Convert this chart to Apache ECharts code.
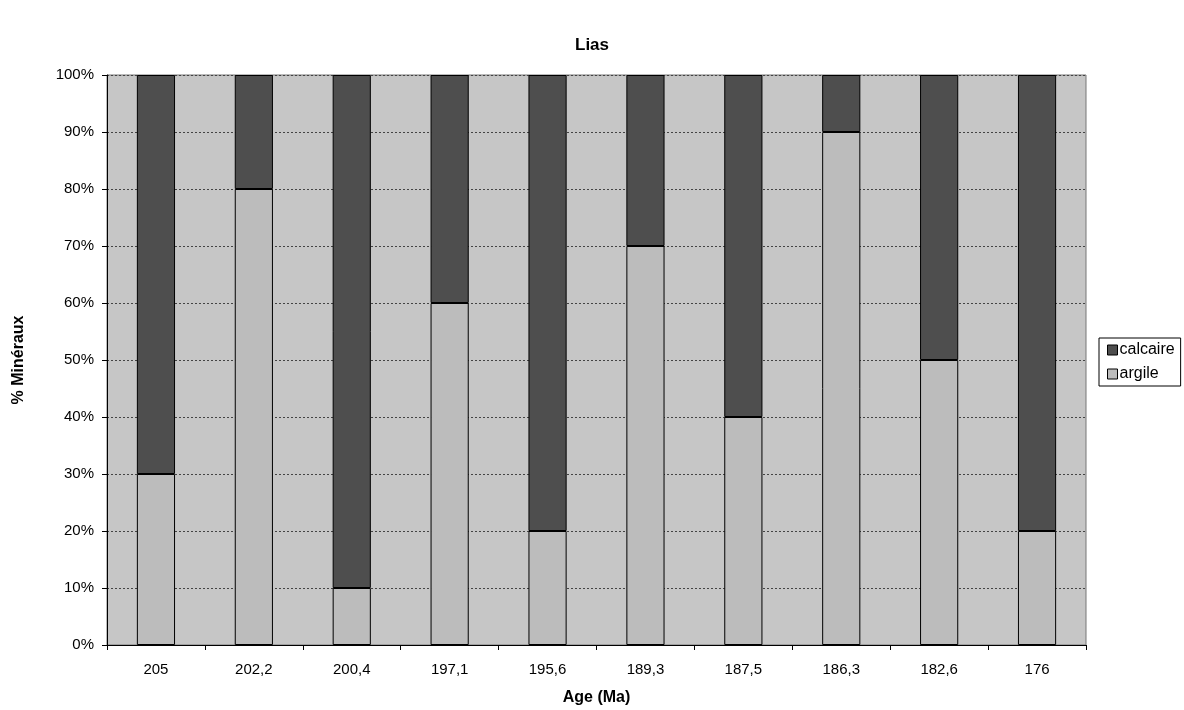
<!DOCTYPE html>
<html><head><meta charset="utf-8">
<script src="https://cdn.jsdelivr.net/npm/echarts@6/dist/echarts.min.js"></script>
<style>html,body{margin:0;padding:0;background:#fff}#c{width:1184px;height:710px}</style>
</head><body><div id="c"></div>
<script>
const categories = ['205','202,2','200,4','197,1','195,6','189,3','187,5','186,3','182,6','176'];
const argile = [30, 80, 10, 60, 20, 70, 40, 90, 50, 20];
const calcaire = [70, 20, 90, 40, 80, 30, 60, 10, 50, 80];
const chart = echarts.init(document.getElementById('c'));
const font = 'Liberation Sans, Arial, sans-serif';
chart.setOption({
  backgroundColor: '#ffffff',
  animation: false,
  title: { text: 'Lias', left: 'center', top: 32, textStyle: { fontFamily: font, fontSize: 17, fontWeight: 'bold', color: '#000' } },
  legend: {
    orient: 'vertical', left: 1099, top: 338,
    data: ['calcaire', 'argile'],
    icon: 'rect',
    itemWidth: 10, itemHeight: 10, itemGap: 8, padding: [4, 6, 4, 8],
    borderColor: '#000', borderWidth: 1,
    textStyle: { fontFamily: font, fontSize: 16, color: '#000', padding: [0, 0, 0, -3] },
    itemStyle: { borderColor: '#000', borderWidth: 1 }
  },
  grid: { left: 107, right: 98, top: 75, bottom: 65, outerBoundsMode: 'none', containLabel: false,
          show: true, backgroundColor: '#c6c6c6', borderColor: '#777', borderWidth: 1 },
  xAxis: {
    type: 'category', data: categories,
    name: 'Age (Ma)', nameLocation: 'middle', nameGap: 45,
    nameTextStyle: { fontFamily: font, fontSize: 16, fontWeight: 'bold', color: '#000' },
    axisLine: { lineStyle: { color: '#000' } },
    axisTick: { show: true, length: 5, lineStyle: { color: '#000' } },
    axisLabel: { fontFamily: font, fontSize: 15, color: '#000', margin: 17 }
  },
  yAxis: {
    type: 'value', min: 0, max: 100, interval: 10,
    name: '% Minéraux', nameLocation: 'middle', nameGap: 80, nameRotate: 90,
    nameTextStyle: { fontFamily: font, fontSize: 16, fontWeight: 'bold', color: '#000' },
    axisLine: { show: true, lineStyle: { color: '#000' } },
    axisTick: { show: true, length: 5, lineStyle: { color: '#000' } },
    axisLabel: { formatter: '{value}%', fontFamily: font, fontSize: 15, color: '#000', margin: 13 },
    splitLine: { lineStyle: { color: '#444', type: [2, 2], width: 1 } }
  },
  series: [
    { name: 'argile', type: 'bar', stack: 'a', data: argile, barWidth: '39%',
      itemStyle: { color: '#bcbcbc', borderColor: '#000', borderWidth: 1 } },
    { name: 'calcaire', type: 'bar', stack: 'a', data: calcaire, barWidth: '39%',
      itemStyle: { color: '#4e4e4e', borderColor: '#000', borderWidth: 1 } }
  ]
});
</script></body></html>
